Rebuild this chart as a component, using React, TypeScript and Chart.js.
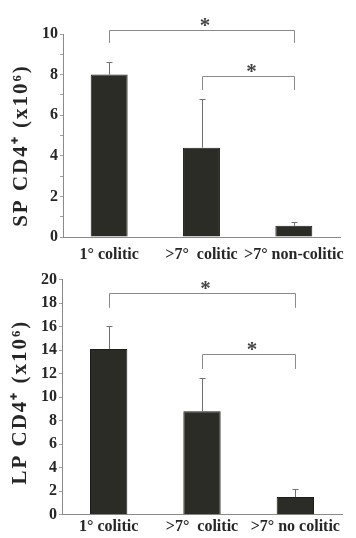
import React, { useEffect, useRef } from "react";
import { Chart, registerables } from "chart.js";
Chart.register(...registerables);

const topCategories = ["1° colitic", ">7°  colitic", ">7° non-colitic"];
const topValues = [8.0, 4.4, 0.55];
const topErrors = [0.6, 2.4, 0.17];
const topBrackets = [
  { from: 0, to: 2, level: 10.2, drop: 9.56, label: "*" },
  { from: 1, to: 2, level: 7.93, drop: 7.24, label: "*" },
];
const topYTitle = "SP CD4⁺ (x10⁶)";
const topYMax = 10;

const bottomCategories = ["1° colitic", ">7°  colitic", ">7° no colitic"];
const bottomValues = [14.1, 8.8, 1.5];
const bottomErrors = [1.95, 2.8, 0.7];
const bottomBrackets = [
  { from: 0, to: 2, level: 18.9, drop: 17.6, label: "*" },
  { from: 1, to: 2, level: 13.65, drop: 12.4, label: "*" },
];
const bottomYTitle = "LP CD4⁺ (x10⁶)";
const bottomYMax = 20;

const FONT = "'Liberation Serif', 'Times New Roman', serif";
const INK = "#262626";
const BAR = "#2c2c27";
const AXIS = "#8a8a8a";

type Bracket = { from: number; to: number; level: number; drop: number; label: string };

function annotPlugin(errors: number[], brackets: Bracket[], title: string, titleX: number, titleDy: number) {
  return {
    id: "annot",
    afterDatasetsDraw(chart: any) {
      const ctx = chart.ctx;
      const y = chart.scales.y;
      const meta = chart.getDatasetMeta(0);
      const data = chart.data.datasets[0].data as number[];
      ctx.save();
      ctx.strokeStyle = "#707070";
      ctx.lineWidth = 1;
      meta.data.forEach((bar: any, i: number) => {
        const cx = Math.round(bar.x) + 0.5;
        const y0 = y.getPixelForValue(data[i]);
        const y1 = Math.round(y.getPixelForValue(data[i] + errors[i])) + 0.5;
        ctx.beginPath();
        ctx.moveTo(cx, y0);
        ctx.lineTo(cx, y1);
        ctx.moveTo(cx - 3, y1);
        ctx.lineTo(cx + 3, y1);
        ctx.stroke();
      });
      ctx.strokeStyle = "#8a8a8a";
      brackets.forEach((b) => {
        const x0 = Math.round(meta.data[b.from].x) + 0.5;
        const x1 = Math.round(meta.data[b.to].x) + 0.5;
        const yb = Math.round(y.getPixelForValue(b.level)) + 0.5;
        const yd = y.getPixelForValue(b.drop);
        ctx.beginPath();
        ctx.moveTo(x0, yd);
        ctx.lineTo(x0, yb);
        ctx.lineTo(x1, yb);
        ctx.lineTo(x1, yd);
        ctx.stroke();
        ctx.fillStyle = "#444";
        ctx.font = `bold 21px ${FONT}`;
        ctx.textAlign = "center";
        ctx.textBaseline = "alphabetic";
        ctx.fillText(b.label, (x0 + x1) / 2 + 3, yb - 10 + 0.55 * 21);
      });
      // rotated y-axis title
      const area = chart.chartArea;
      ctx.translate(titleX, (area.top + area.bottom) / 2 + titleDy);
      ctx.rotate(-Math.PI / 2);
      ctx.fillStyle = INK;
      ctx.font = `bold 21px ${FONT}`;
      (ctx as any).letterSpacing = "2px";
      ctx.textAlign = "center";
      ctx.textBaseline = "middle";
      ctx.fillText(title, 0, 0);
      ctx.restore();
    },
  };
}

function makeConfig(opts: {
  categories: string[];
  values: number[];
  errors: number[];
  brackets: Bracket[];
  title: string;
  yMax: number;
  step: number;
  labelEvery: number;
  padTop: number;
  padRight: number;
  yWidth: number;
  xHeight: number;
  xPad: number;
  titleX: number;
  titleDy: number;
}) {
  return {
    type: "bar",
    data: {
      labels: opts.categories,
      datasets: [
        {
          data: opts.values,
          backgroundColor: BAR,
          borderColor: "#1c1c1a",
          borderWidth: 1,
          barPercentage: 0.4,
          categoryPercentage: 1,
        },
      ],
    },
    options: {
      responsive: false,
      animation: false,
      layout: { padding: { top: opts.padTop, right: opts.padRight, left: 0, bottom: 0 } },
      plugins: { legend: { display: false }, tooltip: { enabled: false } },
      scales: {
        x: {
          grid: { display: true, drawOnChartArea: false, drawTicks: false },
          border: { color: AXIS, width: 1 },
          ticks: {
            font: { family: FONT, size: 16, weight: "bold" },
            color: INK,
            padding: opts.xPad,
            maxRotation: 0,
            minRotation: 0,
            autoSkip: false,
          },
          afterFit(s: any) {
            s.height = opts.xHeight;
          },
        },
        y: {
          min: 0,
          max: opts.yMax,
          grid: { display: true, drawOnChartArea: false, drawTicks: true, tickLength: 3, color: "#a0a0a0" },
          border: { color: AXIS, width: 1 },
          ticks: {
            stepSize: opts.step,
            autoSkip: false,
            padding: 2,
            color: INK,
            font: { family: FONT, size: 16, weight: "bold" },
            callback: (v: number) => (Math.round(v) % opts.labelEvery === 0 ? String(v) : ""),
          },
          title: { display: false },
          afterFit(s: any) {
            s.width = opts.yWidth;
          },
        },
      },
    },
    plugins: [annotPlugin(opts.errors, opts.brackets, opts.title, opts.titleX, opts.titleDy)],
  };
}

export default function App() {
  const topRef = useRef<HTMLCanvasElement>(null);
  const botRef = useRef<HTMLCanvasElement>(null);

  useEffect(() => {
    const c1 = new Chart(
      topRef.current as HTMLCanvasElement,
      makeConfig({
        categories: topCategories,
        values: topValues,
        errors: topErrors,
        brackets: topBrackets,
        title: topYTitle,
        yMax: topYMax,
        step: 1,
        labelEvery: 2,
        padTop: 34,
        padRight: 16,
        yWidth: 63,
        xHeight: 31,
        xPad: 8,
        titleX: 22,
        titleDy: 10,
      }) as any
    );
    const c2 = new Chart(
      botRef.current as HTMLCanvasElement,
      makeConfig({
        categories: bottomCategories,
        values: bottomValues,
        errors: bottomErrors,
        brackets: bottomBrackets,
        title: bottomYTitle,
        yMax: bottomYMax,
        step: 2,
        labelEvery: 2,
        padTop: 10.7,
        padRight: 14,
        yWidth: 62,
        xHeight: 23.3,
        xPad: 3,
        titleX: 21,
        titleDy: 5,
      }) as any
    );
    return () => {
      c1.destroy();
      c2.destroy();
    };
  }, []);

  return (
    <div style={{ position: "absolute", left: 0, top: 0, width: 356, height: 538, background: "#fff", overflow: "hidden" }}>
      <canvas ref={topRef} width={356} height={268} style={{ position: "absolute", left: 0, top: 0, display: "block" }} />
      <canvas ref={botRef} width={356} height={270} style={{ position: "absolute", left: 0, top: 268, display: "block" }} />
    </div>
  );
}
